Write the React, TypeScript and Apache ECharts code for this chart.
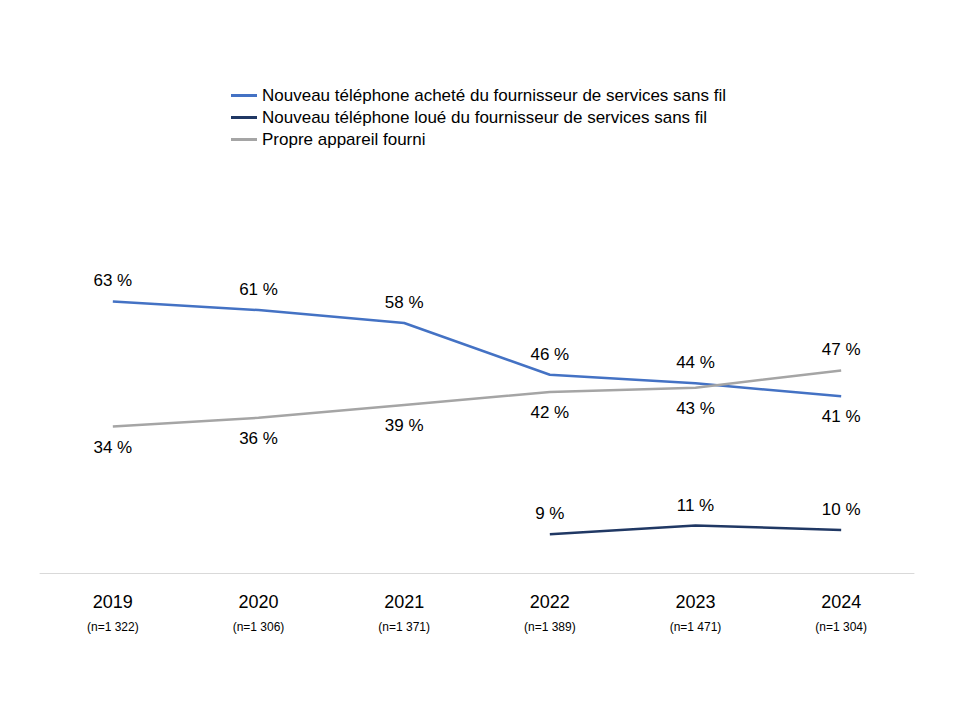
import React, { useEffect, useRef } from "react";
import * as echarts from "echarts";

const years = ["2019", "2020", "2021", "2022", "2023", "2024"];
const sampleSizes = ["(n=1 322)", "(n=1 306)", "(n=1 371)", "(n=1 389)", "(n=1 471)", "(n=1 304)"];
const seriesNames = [
  "Nouveau téléphone acheté du fournisseur de services sans fil",
  "Nouveau téléphone loué du fournisseur de services sans fil",
  "Propre appareil fourni",
];
const purchased = [63, 61, 58, 46, 44, 41];
const leased: (number | null)[] = [null, null, null, 9, 11, 10];
const ownDevice = [34, 36, 39, 42, 43, 47];
const purchasedLabelPos = ["top", "top", "top", "top", "top", "bottom"];
const ownLabelPos = ["bottom", "bottom", "bottom", "bottom", "bottom", "top"];

const FONT = "'Liberation Sans', Arial, sans-serif";

export default function App() {
  const ref = useRef<HTMLDivElement>(null);
  useEffect(() => {
    document.body.style.margin = "0";
    if (!ref.current) return;
    const chart = echarts.init(ref.current, undefined, { renderer: "svg" });
    const labelBase = {
      show: true,
      fontSize: 17,
      color: "#000",
      fontFamily: FONT,
      distance: 12,
      formatter: (p: any) => `${p.value} %`,
    };
    const mk = (vals: (number | null)[], pos: string[]) =>
      vals.map((v, i) => ({ value: v, label: { position: pos[i] as any } }));
    const colors = ["#4472C4", "#203864", "#A5A5A5"];
    chart.setOption({
      animation: false,
      backgroundColor: "#fff",
      textStyle: { fontFamily: FONT },
      legend: {
        orient: "vertical",
        left: 231,
        top: 87,
        padding: 0,
        itemWidth: 26,
        itemHeight: 14,
        itemGap: 5,
        textStyle: { fontSize: 17, color: "#000", fontFamily: FONT },
        data: seriesNames.map((n) => ({
          name: n,
          icon: "path://M0,0 L26,0 L26,3 L0,3 Z",
        })),
      },
      grid: { left: 40, right: 46, top: 142, bottom: 147 },
      xAxis: {
        type: "category",
        data: years.map((y, i) => `${y}\n${sampleSizes[i]}`),
        boundaryGap: true,
        axisLine: { lineStyle: { color: "#D9D9D9", width: 1 } },
        axisTick: { show: false },
        axisLabel: {
          margin: 15,
          formatter: (v: string) => {
            const [y, n] = v.split("\n");
            return `{y|${y}}\n{n|${n}}`;
          },
          rich: {
            y: { fontSize: 18, color: "#000", fontFamily: FONT, lineHeight: 28 },
            n: { fontSize: 12, color: "#000", fontFamily: FONT, lineHeight: 22 },
          },
        },
      },
      yAxis: {
        type: "value",
        min: 0,
        max: 100,
        show: false,
        splitLine: { show: false },
      },
      series: [
        [purchased, purchasedLabelPos],
        [leased, leased.map(() => "top")],
        [ownDevice, ownLabelPos],
      ].map(([vals, pos], i) => ({
        name: seriesNames[i],
        type: "line",
        data: mk(vals as (number | null)[], pos as string[]),
        symbol: "circle",
        symbolSize: 0.1,
        showSymbol: true,
        lineStyle: { color: colors[i], width: 2.5 },
        itemStyle: { color: colors[i] },
        label: labelBase,
        emphasis: { disabled: true },
      })),
    });
    return () => chart.dispose();
  }, []);
  return <div ref={ref} style={{ width: 960, height: 720 }} />;
}
